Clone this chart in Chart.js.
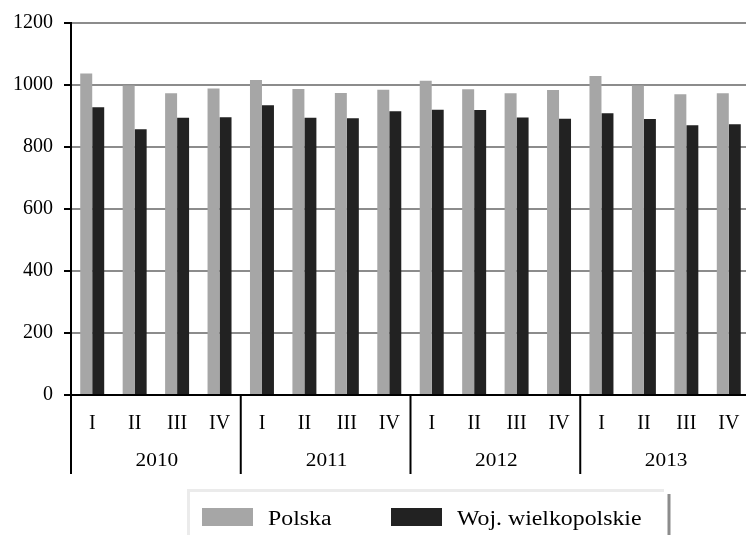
<!DOCTYPE html>
<html>
<head>
<meta charset="utf-8">
<script src="https://cdn.jsdelivr.net/npm/chart.js@4"></script>
<style>
  html, body { margin: 0; padding: 0; background: #fff; overflow: hidden; }
  #wrap { width: 760px; height: 535px; position: relative; }
</style>
</head>
<body>
<div id="wrap"><canvas id="c" width="760" height="535"></canvas></div>
<script>
const years = ['2010', '2011', '2012', '2013'];
const quarters = ['I', 'II', 'III', 'IV'];
const polska = [1037, 998, 973, 989, 1016, 987, 974, 985, 1014, 986, 973, 984, 1029, 998, 970, 973];
const wojWielkopolskie = [928, 857, 894, 896, 935, 894, 893, 915, 920, 919, 895, 891, 909, 890, 870, 873];
const yTicks = [0, 200, 400, 600, 800, 1000, 1200];

const labels = [];
years.forEach(() => quarters.forEach(q => labels.push(q)));

const FONT = "'Liberation Serif', 'Times New Roman', serif";

function stretchedText(ctx, text, x, y, sx) {
  ctx.save();
  ctx.translate(x, y);
  ctx.scale(sx, 1);
  ctx.fillText(text, 0, 0);
  ctx.restore();
}

const groupPlugin = {
  id: 'groupPlugin',
  afterDraw(chart) {
    const ctx = chart.ctx;
    const xs = chart.scales.x;
    const area = chart.chartArea;
    const half = (xs.getPixelForValue(1) - xs.getPixelForValue(0)) / 2;
    ctx.save();
    ctx.strokeStyle = '#000';
    ctx.lineWidth = 2;
    for (let i = 0; i <= years.length; i++) {
      let x;
      if (i < years.length) x = xs.getPixelForValue(i * quarters.length) - half;
      else x = xs.getPixelForValue(years.length * quarters.length - 1) + half;
      ctx.beginPath();
      ctx.moveTo(x, area.bottom);
      ctx.lineTo(x, 474);
      ctx.stroke();
    }
    ctx.fillStyle = '#000';
    ctx.font = '19px ' + FONT;
    ctx.textAlign = 'center';
    ctx.textBaseline = 'middle';
    years.forEach((y, i) => {
      const a = xs.getPixelForValue(i * quarters.length);
      const b = xs.getPixelForValue(i * quarters.length + quarters.length - 1);
      stretchedText(ctx, y, (a + b) / 2 + 1, 461, 1.12);
    });
    ctx.fillStyle = '#ebebeb';
    ctx.fillRect(187, 489, 477, 3);
    ctx.fillRect(187, 489, 3, 46);
    ctx.fillStyle = '#8c8c8c';
    ctx.fillRect(667.5, 494, 3, 41);
    const itemX = [202, 391];
    ctx.font = '20px ' + FONT;
    ctx.textAlign = 'left';
    ctx.textBaseline = 'alphabetic';
    chart.data.datasets.forEach((ds, i) => {
      ctx.fillStyle = ds.backgroundColor;
      ctx.fillRect(itemX[i], 508, 51, 18);
      ctx.fillStyle = '#000';
      stretchedText(ctx, ds.label, itemX[i] + 66, 525, 1.19);
    });
    ctx.restore();
  }
};

new Chart(document.getElementById('c'), {
  type: 'bar',
  data: {
    labels: labels,
    datasets: [
      { label: 'Polska', data: polska, backgroundColor: '#a6a6a6', borderWidth: 0,
        categoryPercentage: 0.565, barPercentage: 1.0 },
      { label: 'Woj. wielkopolskie', data: wojWielkopolskie, backgroundColor: '#222222', borderWidth: 0,
        categoryPercentage: 0.565, barPercentage: 1.0 }
    ]
  },
  options: {
    responsive: false,
    animation: false,
    layout: { padding: { left: 0, right: 10, top: 22, bottom: 0 } },
    plugins: { legend: { display: false }, tooltip: { enabled: false }, title: { display: false } },
    scales: {
      x: {
        grid: { display: false, drawTicks: false },
        border: { display: true, color: '#000', width: 2 },
        ticks: { color: '#000', font: { family: FONT, size: 20 }, padding: 17, maxRotation: 0, autoSkip: false },
        afterFit(scale) { scale.height = 140; }
      },
      y: {
        min: 0, max: 1200,
        afterBuildTicks(scale) { scale.ticks = yTicks.map(v => ({ value: v })); },
        grid: {
          color: ctx => (ctx.tick && ctx.tick.value === 0) ? '#000' : '#8c8c8c',
          lineWidth: 2,
          drawTicks: true,
          tickLength: 7,
          tickColor: '#000',
          tickWidth: 2
        },
        border: { display: true, color: '#000', width: 2 },
        ticks: { color: '#000', font: { family: FONT, size: 20 }, padding: 11,
                 callback: v => String(v) },
        afterFit(scale) { scale.width = 71; }
      }
    }
  },
  plugins: [groupPlugin]
});
</script>
</body>
</html>
